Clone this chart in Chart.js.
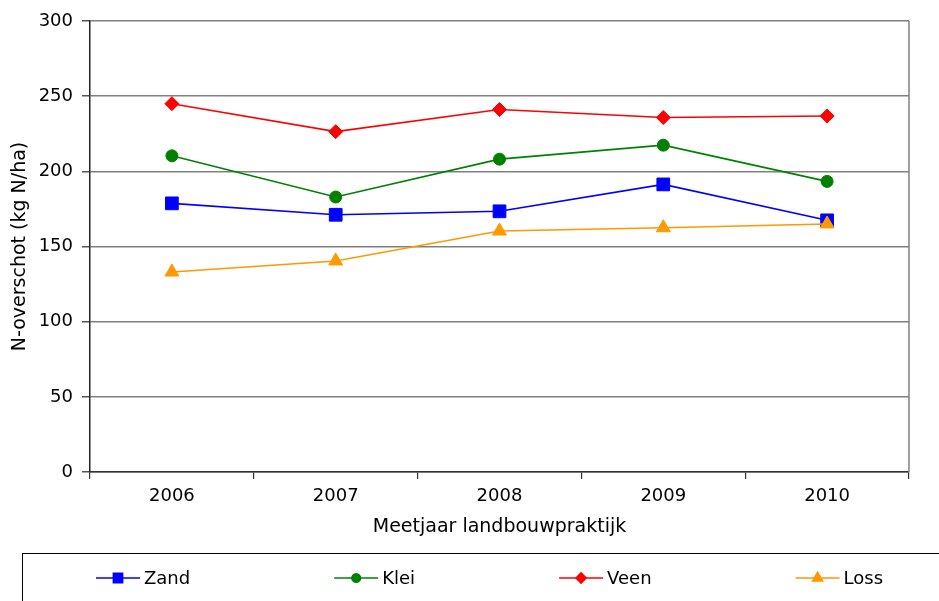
<!DOCTYPE html>
<html lang="nl">
  <head>
    <meta charset="utf-8" />
    <title>N-overschot</title>
    <style>
      body { margin: 0; background: #fff; }
    </style>
  </head>
  <body>
    <canvas id="canvas" width="939" height="601"></canvas>

    <script src="https://cdn.jsdelivr.net/npm/chart.js"></script>

    <script>
      const years = ["2006", "2007", "2008", "2009", "2010"];
      const zand = [178.7, 171.1, 173.4, 191.3, 167.4];
      const klei = [210.3, 182.9, 208.1, 217.4, 193.3];
      const veen = [245.0, 226.4, 241.1, 235.8, 236.8];
      const loss = [133.0, 140.4, 160.3, 162.5, 165.0];

      const FONT = "'DejaVu Sans', Verdana, sans-serif";

      function series(label, data, color, style, radius, order) {
        return {
          label: label,
          data: data,
          borderColor: color,
          backgroundColor: color,
          borderWidth: 1.6,
          pointStyle: style,
          pointRadius: radius,
          pointBorderWidth: 1,
          pointBorderColor: color,
          pointBackgroundColor: color,
          order: order,
        };
      }

      // legend in a box below the chart, plus the grey right-hand frame line
      const framePlugin = {
        id: "frame",
        afterDatasetsDraw(chart) {
          const { ctx, chartArea } = chart;
          ctx.save();
          ctx.strokeStyle = "#808080";
          ctx.lineWidth = 1.5;
          ctx.beginPath();
          ctx.moveTo(chartArea.right, chartArea.top);
          ctx.lineTo(chartArea.right, chartArea.bottom);
          ctx.stroke();
          ctx.restore();
        },
        afterDraw(chart) {
          const ctx = chart.ctx;
          ctx.save();
          ctx.strokeStyle = "#000";
          ctx.lineWidth = 1;
          ctx.strokeRect(22.5, 553.5, 1000, 100);

          ctx.font = "18px " + FONT;
          ctx.textBaseline = "middle";
          ctx.textAlign = "left";
          let x = 96;
          const y = 578;
          chart.data.datasets.forEach((ds) => {
            ctx.strokeStyle = ds.borderColor;
            ctx.fillStyle = ds.backgroundColor;
            ctx.lineWidth = 1.6;
            ctx.beginPath();
            ctx.moveTo(x, y);
            ctx.lineTo(x + 44, y);
            ctx.stroke();
            Chart.helpers.drawPoint(
              ctx,
              { pointStyle: ds.pointStyle, radius: ds.pointRadius * 0.72, rotation: 0, borderWidth: 1 },
              x + 22,
              y
            );
            ctx.fillStyle = "#000";
            ctx.fillText(ds.label, x + 48, y + 1);
            x += 48 + ctx.measureText(ds.label).width + 144;
          });
          ctx.restore();
        },
      };

      new Chart(document.getElementById("canvas"), {
        type: "line",
        data: {
          labels: years,
          datasets: [
            series("Zand", zand, "#0000ff", "rect", 9, 3),
            series("Klei", klei, "#008000", "circle", 6, 2),
            series("Veen", veen, "#ff0000", "rectRot", 7, 1),
            series("Loss", loss, "#ff9900", "triangle", 8, 0),
          ],
        },
        options: {
          responsive: false,
          animation: false,
          layout: {
            padding: { left: 0, right: 30, top: 21, bottom: 59 },
          },
          plugins: {
            legend: { display: false },
            tooltip: { enabled: false },
          },
          scales: {
            x: {
              offset: true,
              grid: {
                offset: true,
                drawOnChartArea: false,
                drawTicks: true,
                tickLength: 7,
                tickColor: "#333",
                lineWidth: 1.2,
              },
              border: { color: "#333", width: 1.5 },
              ticks: {
                color: "#000",
                padding: 7,
                maxRotation: 0,
                font: { family: FONT, size: 18 },
              },
              title: {
                display: true,
                text: "Meetjaar landbouwpraktijk",
                color: "#000",
                padding: { top: 0, bottom: 4 },
                font: { family: FONT, size: 19 },
              },
              afterFit(scale) {
                scale.height = 70;
              },
            },
            y: {
              min: 0,
              max: 300,
              ticks: {
                stepSize: 50,
                color: "#000",
                padding: 9,
                font: { family: FONT, size: 18 },
              },
              grid: {
                color: "#808080",
                lineWidth: 1.5,
                tickLength: 8,
                tickColor: "#555",
              },
              border: { color: "#222", width: 1.5 },
              title: {
                display: true,
                text: "N-overschot (kg N/ha)",
                color: "#000",
                padding: { top: 9, bottom: 0 },
                font: { family: FONT, size: 19 },
              },
              afterFit(scale) {
                scale.width = 90;
              },
            },
          },
        },
        plugins: [framePlugin],
      });
    </script>
  </body>
</html>
